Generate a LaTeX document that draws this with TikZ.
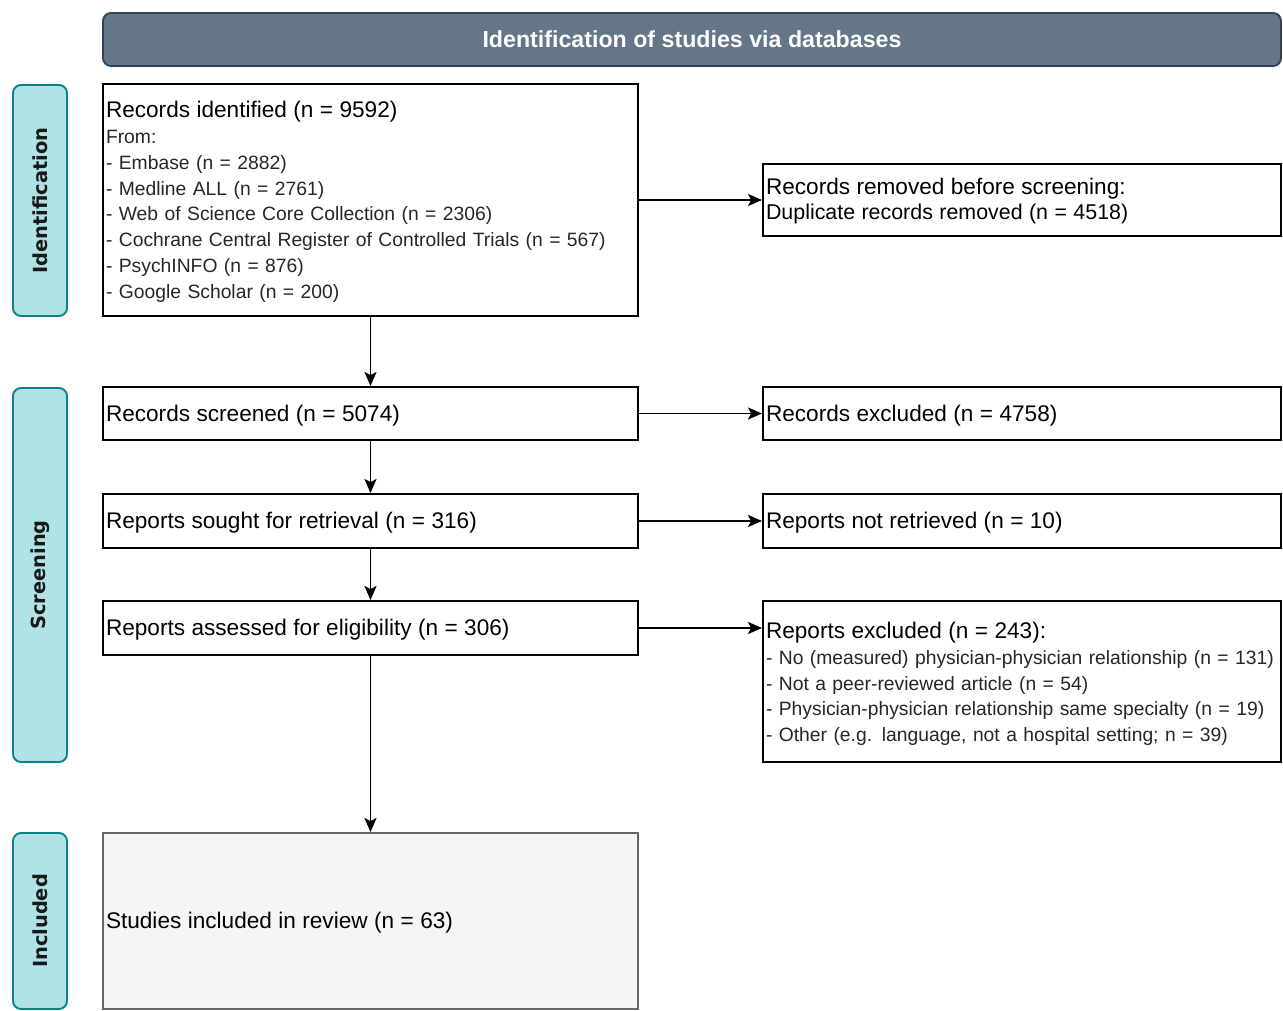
\documentclass[tikz,border=0pt]{standalone}
\usepackage{fontspec}
\setmainfont{Liberation Sans}
\newfontfamily\sidefont{DejaVu Sans}
\usetikzlibrary{arrows.meta}
\definecolor{hdrfill}{HTML}{647687}
\definecolor{hdrdraw}{HTML}{314354}
\definecolor{sidefill}{HTML}{B0E3E6}
\definecolor{sidedraw}{HTML}{0E8088}
\definecolor{inclfill}{HTML}{F5F5F5}
\definecolor{incldraw}{HTML}{666666}
\definecolor{itemcol}{HTML}{262626}
\newcommand{\hdfont}{\color{black}\fontsize{22.6}{25.9}\selectfont}
\begin{document}
\begin{tikzpicture}[x=1pt,y=-1pt,
  box/.style={draw=black, line width=1.9pt, inner xsep=3pt, inner ysep=0pt, align=left,
              text=itemcol, font=\fontsize{19.3}{25.8}\selectfont},
  lbox/.style={box, text width=529pt, minimum height=#1},
  rbox/.style={box, text width=512pt, minimum height=#1},
  oneline/.style={text height=17pt, text depth=2pt},
  sidebox/.style={draw=sidedraw, fill=sidefill, line width=1.9pt, rounded corners=8pt,
              rotate=90, minimum width=#1, minimum height=54pt, inner sep=0pt,
              text=black!90, font=\sidefont\bfseries\fontsize{19.4}{22}\selectfont},
  arr/.style={-{Stealth[length=14pt,width=12pt,inset=3pt]}, line width=1.9pt}]
\useasboundingbox (0,0) rectangle (1283,1011);

% header
\node[draw=hdrdraw, fill=hdrfill, rounded corners=8pt, line width=1.9pt,
      minimum width=1178pt, minimum height=53pt, inner sep=0pt, text=white,
      font=\bfseries\fontsize{23.2}{26}\selectfont] (hdr) at (692,39.5)
      {Identification of studies via databases};

% side labels
\node[sidebox=231pt] (sideid) at (40,200.5) {Identification};
\node[sidebox=374pt] (sidescr) at (40,575) {Screening};
\node[sidebox=176pt] (sideinc) at (40,921) {Included};

% left column
\node[lbox=232pt] (ident) at (370.5,200) {{\hdfont\rule{0pt}{20pt}Records identified (n = 9592)}\\
From:\\
- Embase (n = 2882)\\
- Medline ALL (n = 2761)\\
- Web of Science Core Collection (n = 2306)\\
- Cochrane Central Register of Controlled Trials (n = 567)\\
- PsychINFO (n = 876)\\
- Google Scholar (n = 200)};
\node[lbox=53pt, oneline] (scr) at (370.5,413.5) {\hdfont Records screened (n = 5074)};
\node[lbox=54pt, oneline] (sought) at (370.5,521) {\hdfont Reports sought for retrieval (n = 316)};
\node[lbox=54pt, oneline] (assess) at (370.5,628) {\hdfont Reports assessed for eligibility (n = 306)};
\node[lbox=176pt, oneline, fill=inclfill, draw=incldraw] (incl) at (370.5,921) {\hdfont Studies included in review (n = 63)};

% right column
\node[rbox=72pt] (rem) at (1022,200) {{\hdfont\rule{0pt}{18.5pt}Records removed before screening:}\\
{\color{black}\fontsize{21.4}{25.9}\selectfont Duplicate records removed (n = 4518)}};
\node[rbox=53pt, oneline] (excl) at (1022,413.5) {\hdfont Records excluded (n = 4758)};
\node[rbox=54pt, oneline] (notret) at (1022,521) {\hdfont Reports not retrieved (n = 10)};
\node[rbox=161pt] (repexcl) at (1022,681.5) {{\hdfont\rule{0pt}{21pt}Reports excluded (n = 243):}\\
- No (measured) physician-physician relationship (n = 131)\\
- Not a peer-reviewed article (n = 54)\\
- Physician-physician relationship same specialty (n = 19)\\
- Other (e.g. language, not a hospital setting; n = 39)};

% connectors
\draw[arr] (ident) -- (scr);
\draw[arr] (ident) -- (rem);
\draw[arr] (scr) -- (sought);
\draw[arr] (scr) -- (excl);
\draw[arr] (sought) -- (assess);
\draw[arr] (sought) -- (notret);
\draw[arr] (assess.east) -- (assess.east -| repexcl.west);
\draw[arr] (assess) -- (incl);
\end{tikzpicture}
\end{document}
